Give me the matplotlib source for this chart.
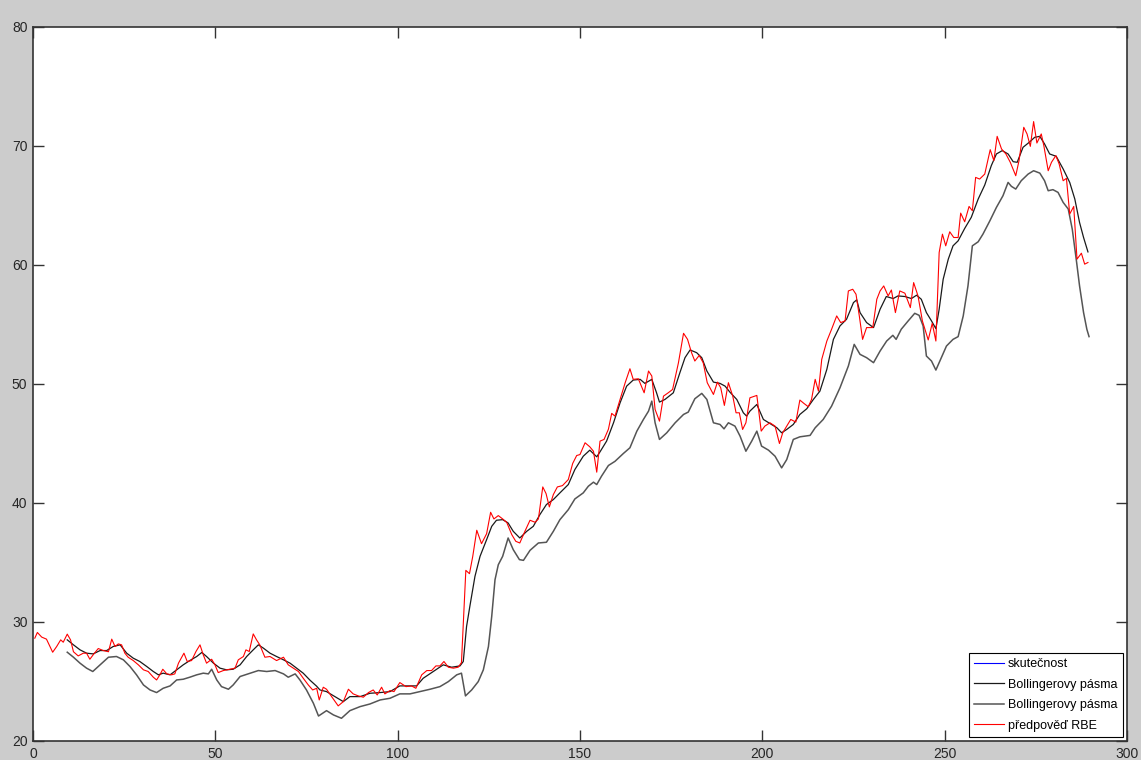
import matplotlib
matplotlib.use("Agg")
import matplotlib.pyplot as plt

plt.rcParams['font.family'] = ['Liberation Sans', 'DejaVu Sans']

# předpověď RBE (red) - day index / value
pred_x = [0.5, 1.2, 2.4, 3.7, 5.4, 6.5, 7.6, 8.3, 9.4, 10.3, 11.1, 12.4, 13.8, 14.7, 15.6, 16.5,
          17.9, 19.3, 20.7, 21.6, 22.5, 23.4, 24.3, 25.2, 26.1, 27.5, 28.9, 30.3, 31.6, 33.0,
          33.9, 34.8, 35.6, 36.7, 38.0, 38.9, 39.9, 41.4, 42.3, 43.5, 44.7, 45.8, 46.7, 47.6,
          49.0, 49.9, 50.8, 52.2, 54.0, 55.4, 56.3, 57.7, 58.4, 59.3, 60.4, 61.3, 62.2, 63.6,
          65.0, 66.8, 68.7, 70.0, 71.4, 72.8, 74.1, 75.5, 76.7, 77.8, 78.5, 79.6, 80.5, 81.9,
          83.7, 85.1, 86.5, 87.8, 89.2, 90.6, 92.0, 93.3, 94.4, 95.6, 96.5, 97.9, 99.0, 100.6,
          102.3, 103.8, 105.0, 106.6, 108.0, 109.3, 110.5, 111.6, 112.7, 113.9, 115.3, 116.6,
          117.5, 118.7, 119.7, 120.6, 121.7, 123.0, 124.4, 125.5, 126.4, 127.6, 128.8, 129.9,
          131.3, 132.4, 133.5, 134.9, 136.3, 137.7, 138.6, 139.8, 140.7, 141.6, 142.7, 143.8,
          145.2, 146.8, 148.0, 149.1, 150.0, 151.4, 152.7, 153.7, 154.6, 155.5, 156.6, 157.8,
          158.7, 159.6, 161.0, 162.4, 163.7, 164.6, 166.0, 167.6, 168.8, 169.7, 170.6, 171.8,
          172.9, 174.2, 175.4, 177.0, 178.4, 179.5, 180.6, 181.5, 182.7, 183.8, 184.9, 186.6,
          187.7, 188.6, 189.6, 190.7, 191.9, 192.8, 193.7, 194.6, 195.5, 196.6, 198.5, 199.7,
          200.7, 202.1, 203.5, 204.7, 205.6, 206.7, 207.8, 209.2, 210.3, 211.4, 212.6, 213.5,
          214.5, 215.4, 216.3, 217.7, 219.0, 220.4, 221.5, 222.7, 223.6, 224.8, 225.7, 226.6,
          227.5, 228.6, 230.3, 231.4, 232.3, 233.3, 234.5, 235.4, 236.5, 237.7, 239.1, 240.6,
          241.5, 242.7, 243.9, 245.5, 246.6, 247.6, 248.5, 249.4, 250.3, 251.4, 252.5, 253.7,
          254.4, 255.5, 256.7, 257.6, 258.5, 259.6, 261.0, 262.5, 263.5, 264.4, 265.6, 266.8,
          268.0, 269.5, 270.4, 271.7, 272.6, 273.5, 274.4, 275.3, 276.5, 277.2, 278.4, 279.3,
          280.5, 281.4, 282.5, 283.4, 284.3, 285.4, 286.3, 287.5, 288.4, 289.3]
pred_y = [28.64, 29.12, 28.73, 28.56, 27.46, 27.94, 28.5, 28.3, 28.98, 28.5, 27.5, 27.15, 27.38,
          27.38, 26.87, 27.24, 27.77, 27.6, 27.5, 28.56, 27.94, 28.16, 28.08, 27.38, 27.04,
          26.76, 26.4, 25.98, 25.84, 25.36, 25.13, 25.56, 26.03, 25.64, 25.56, 25.64, 26.54,
          27.38, 26.68, 26.76, 27.52, 28.08, 27.24, 26.54, 26.87, 26.4, 25.75, 25.92, 26.03,
          26.12, 26.82, 27.1, 27.66, 27.52, 29.0, 28.5, 28.08, 27.04, 27.1, 26.76, 27.04, 26.4,
          26.12, 25.84, 25.28, 24.71, 24.29, 24.43, 23.45, 24.52, 24.35, 23.73, 22.95, 23.31,
          24.35, 23.96, 23.79, 23.68, 24.07, 24.29, 23.87, 24.52, 23.96, 24.24, 24.15, 24.91,
          24.57, 24.63, 24.43, 25.56, 25.92, 25.92, 26.31, 26.31, 26.68, 26.2, 26.12, 26.2,
          26.59, 34.34, 34.06, 35.52, 37.71, 36.58, 37.42, 39.22, 38.66, 38.94, 38.66, 38.38,
          37.34, 36.78, 36.64, 37.62, 38.55, 38.38, 38.66, 41.35, 40.79, 39.67, 40.71, 41.35,
          41.46, 41.97, 43.32, 43.99, 44.07, 45.06, 44.72, 44.35, 42.59, 45.2, 45.34, 46.2,
          47.53, 47.3, 48.7, 50.11, 51.28, 50.39, 50.44, 49.26, 51.09, 50.67, 47.86, 46.88,
          48.98, 49.26, 49.54, 51.78, 54.26, 53.75, 52.63, 51.93, 52.4, 51.78, 50.11, 49.12,
          50.16, 49.68, 48.2, 50.11, 48.98, 47.58, 47.58, 46.18, 46.74, 48.84, 49.04, 46.04,
          46.46, 46.74, 46.46, 45.0, 45.9, 46.46, 47.02, 46.8, 48.65, 48.37, 48.09, 48.7,
          50.39, 49.4, 52.07, 53.61, 54.6, 55.72, 55.16, 55.3, 57.82, 57.96, 57.54, 55.72,
          53.75, 54.74, 54.74, 57.12, 57.82, 58.24, 57.4, 57.9, 56.0, 57.82, 57.63, 56.42,
          58.52, 57.4, 55.3, 53.7, 55.1, 53.61, 61.05, 62.59, 61.61, 62.79, 62.31, 62.31,
          64.36, 63.63, 64.92, 64.56, 67.36, 67.22, 67.64, 69.69, 68.77, 70.81, 69.75, 69.33,
          68.63, 67.5, 68.77, 71.57, 71.01, 69.97, 72.05, 70.25, 71.01, 70.03, 67.92, 68.63,
          69.19, 68.49, 67.08, 67.28, 64.28, 64.92, 60.49, 60.99, 60.07, 60.21]

# upper Bollinger band
upper_x = [9.4, 11.1, 12.9, 14.7, 16.5, 18.4, 20.2, 22.0, 23.9, 25.7, 27.5, 29.3, 31.2, 33.0,
           34.4, 35.7, 37.6, 39.4, 41.2, 43.0, 44.9, 46.3, 47.6, 49.5, 51.3, 53.1, 54.9, 56.8,
           58.6, 60.4, 61.8, 63.2, 65.0, 66.8, 68.7, 70.5, 72.3, 74.1, 76.0, 77.8, 78.7, 80.5,
           82.8, 85.1, 86.9, 89.7, 92.4, 95.2, 97.9, 100.6, 103.4, 105.2, 107.0, 109.8, 112.5,
           114.8, 117.1, 118.0, 118.9, 119.8, 121.2, 122.6, 124.4, 125.8, 127.1, 128.8, 130.3,
           131.7, 133.5, 135.4, 137.2, 139.0, 140.8, 142.7, 144.5, 146.8, 148.6, 150.9, 152.7,
           154.6, 155.5, 157.3, 159.2, 161.0, 162.8, 164.6, 166.5, 167.8, 169.7, 171.0, 171.8,
           173.3, 175.6, 177.4, 178.8, 180.2, 182.0, 183.4, 184.8, 186.6, 188.4, 189.8, 191.1,
           193.0, 194.8, 195.7, 196.6, 198.5, 200.3, 202.1, 204.0, 205.3, 206.7, 208.5, 210.3,
           212.2, 214.0, 215.8, 217.7, 219.5, 221.3, 223.1, 225.0, 225.9, 226.8, 228.6, 230.5,
           232.3, 234.0, 235.9, 237.2, 239.1, 240.9, 242.3, 243.6, 245.0, 246.4, 247.6, 248.5,
           249.6, 251.0, 252.3, 253.7, 255.5, 257.3, 259.2, 261.0, 262.8, 264.2, 265.8, 267.4,
           268.8, 269.9, 271.5, 273.2, 274.7, 276.1, 277.4, 278.8, 280.6, 282.5, 284.3, 285.7,
           287.0, 288.1, 289.3]
upper_y = [28.5, 28.08, 27.66, 27.38, 27.32, 27.6, 27.6, 27.94, 28.08, 27.38, 26.96, 26.68,
           26.26, 25.84, 25.56, 25.7, 25.56, 25.98, 26.4, 26.76, 27.1, 27.44, 27.1, 26.54,
           26.12, 25.98, 26.03, 26.4, 27.1, 27.66, 28.08, 27.8, 27.38, 27.1, 26.82, 26.54,
           26.12, 25.7, 25.1, 24.6, 24.29, 24.15, 23.73, 23.31, 23.73, 23.73, 24.01, 24.07,
           24.15, 24.63, 24.63, 24.63, 25.27, 25.84, 26.4, 26.2, 26.31, 26.68, 29.62, 31.31,
           33.83, 35.52, 36.92, 38.04, 38.55, 38.6, 38.32, 37.62, 37.06, 37.62, 38.04, 39.02,
           39.87, 40.29, 40.85, 41.55, 42.81, 43.93, 44.44, 43.88, 44.3, 45.2, 46.74, 48.42,
           49.82, 50.33, 50.39, 50.05, 50.39, 49.26, 48.48, 48.7, 49.26, 50.95, 52.21, 52.86,
           52.63, 52.21, 51.09, 50.16, 50.05, 49.82, 49.32, 48.7, 47.58, 47.3, 47.72, 48.28,
           47.02, 46.68, 46.32, 45.9, 46.18, 46.6, 47.44, 47.92, 48.7, 49.4, 51.23, 53.75,
           54.88, 55.44, 56.84, 57.07, 56.0, 55.16, 54.74, 56.28, 57.35, 57.18, 57.4, 57.35,
           57.18, 57.46, 57.12, 56.0, 55.3, 54.65, 56.28, 58.8, 60.49, 61.61, 62.03, 63.07,
           64.0, 65.54, 66.72, 68.35, 69.33, 69.61, 69.33, 68.68, 68.63, 69.89, 70.31, 70.73,
           70.81, 70.17, 69.33, 69.13, 68.07, 66.94, 65.54, 63.57, 62.31, 61.1]

# lower Bollinger band
lower_x = [9.4, 11.1, 12.9, 14.7, 16.4, 18.4, 20.7, 22.9, 24.8, 26.6, 28.4, 30.3, 32.1, 33.9,
           35.7, 37.6, 39.4, 41.2, 43.0, 44.9, 46.7, 48.1, 49.0, 50.4, 51.7, 53.6, 54.9, 56.8,
           59.6, 61.8, 64.1, 66.4, 68.7, 70.0, 71.9, 73.2, 75.0, 76.9, 78.3, 80.5, 82.4, 84.6,
           86.9, 89.7, 92.4, 95.2, 97.9, 100.6, 103.4, 106.1, 108.9, 111.6, 113.9, 116.2, 117.5,
           118.6, 120.3, 122.1, 123.5, 124.9, 125.8, 126.7, 127.6, 128.8, 130.3, 131.7, 133.4,
           134.5, 136.3, 138.6, 140.8, 142.7, 144.5, 146.8, 148.6, 150.9, 152.3, 153.7, 154.6,
           155.9, 157.8, 159.6, 161.9, 163.7, 165.6, 167.4, 168.8, 169.7, 170.6, 171.8, 173.8,
           176.1, 178.4, 179.7, 181.5, 183.4, 184.8, 186.6, 188.4, 189.5, 190.7, 192.5, 193.9,
           195.5, 197.1, 198.5, 199.8, 201.7, 203.5, 205.3, 206.7, 208.5, 210.3, 213.1, 214.5,
           216.7, 219.0, 221.3, 223.6, 225.2, 226.8, 228.6, 230.5, 232.3, 234.1, 235.8, 236.7,
           238.1, 240.0, 241.8, 243.0, 244.1, 245.0, 246.4, 247.6, 248.7, 250.5, 252.3, 253.7,
           255.1, 256.4, 257.6, 259.2, 260.5, 262.4, 264.2, 266.0, 267.4, 268.3, 269.5, 271.0,
           272.9, 274.4, 276.1, 277.4, 278.4, 279.7, 281.1, 282.5, 283.9, 285.0, 286.2, 287.0,
           288.1, 289.0, 289.6]
lower_y = [27.46, 27.04, 26.54, 26.12, 25.84, 26.4, 27.04, 27.1, 26.82, 26.26, 25.56, 24.71,
           24.29, 24.07, 24.43, 24.63, 25.13, 25.19, 25.36, 25.56, 25.7, 25.64, 26.03, 25.13,
           24.57, 24.35, 24.71, 25.42, 25.7, 25.92, 25.84, 25.92, 25.64, 25.36, 25.64, 25.13,
           24.29, 23.17, 22.1, 22.55, 22.19, 21.91, 22.55, 22.89, 23.11, 23.45, 23.59, 23.96,
           23.96, 24.15, 24.35, 24.57, 24.99, 25.56, 25.7, 23.79, 24.29, 24.99, 25.98, 27.94,
           30.47, 33.55, 34.81, 35.52, 37.06, 36.08, 35.24, 35.18, 36.02, 36.64, 36.7, 37.62,
           38.6, 39.44, 40.34, 40.85, 41.41, 41.75, 41.55, 42.25, 43.15, 43.5, 44.16, 44.64,
           46.04, 47.02, 47.72, 48.56, 46.74, 45.34, 45.9, 46.74, 47.44, 47.64, 48.76, 49.21,
           48.7, 46.74, 46.6, 46.23, 46.74, 46.46, 45.62, 44.35, 45.2, 46.04, 44.78, 44.44,
           43.93, 42.95, 43.65, 45.34, 45.56, 45.68, 46.32, 47.02, 48.14, 49.68, 51.51, 53.33,
           52.49, 52.21, 51.79, 52.77, 53.61, 54.09, 53.75, 54.6, 55.3, 55.94, 55.77, 54.88,
           52.35, 51.93, 51.17, 51.93, 53.19, 53.75, 53.98, 55.72, 58.24, 61.61, 61.95, 62.59,
           63.71, 64.84, 65.82, 66.94, 66.61, 66.38, 67.08, 67.64, 67.92, 67.72, 67.08, 66.24,
           66.33, 66.1, 65.26, 64.7, 63.01, 60.21, 58.24, 56.0, 54.6, 53.98]

labels = ['skutečnost', 'Bollingerovy pásma', 'Bollingerovy pásma', 'předpověď RBE']

fig = plt.figure(figsize=(11.41, 7.60), dpi=100, facecolor='#cccccc')
ax = fig.add_axes([0.0289, 0.025, 0.9588, 0.9395])
ax.set_facecolor('white')

# skutečnost is hidden behind the other curves, only its legend entry shows
ax.plot([], [], color='#0000ff', lw=0.8, label=labels[0])
ax.plot(upper_x, upper_y, color='#1a1a1a', lw=0.9, label=labels[1], zorder=2)
ax.plot(lower_x, lower_y, color='#555555', lw=1.1, label=labels[2], zorder=2)
ax.plot(pred_x, pred_y, color='#ff0000', lw=0.8, label=labels[3], zorder=3)

ax.set_xlim(0, 300)
ax.set_ylim(20, 80)
ax.set_xticks(range(0, 301, 50))
ax.set_yticks(range(20, 81, 10))
ax.tick_params(direction='in', length=8, width=1, top=True, right=True,
               labelsize=10, labelcolor='#262626', color='#333333', pad=4)
for sp in ax.spines.values():
    sp.set_color('#333333')
    sp.set_linewidth(1.2)

leg = ax.legend(loc='lower right', frameon=True, fancybox=False, fontsize=9,
                edgecolor='black', framealpha=1, handlelength=2.4, labelspacing=0.68,
                borderaxespad=0.35, borderpad=0.4, handletextpad=0.3)
leg.get_frame().set_linewidth(0.8)

fig.savefig('out.png', dpi=100, facecolor=fig.get_facecolor())
